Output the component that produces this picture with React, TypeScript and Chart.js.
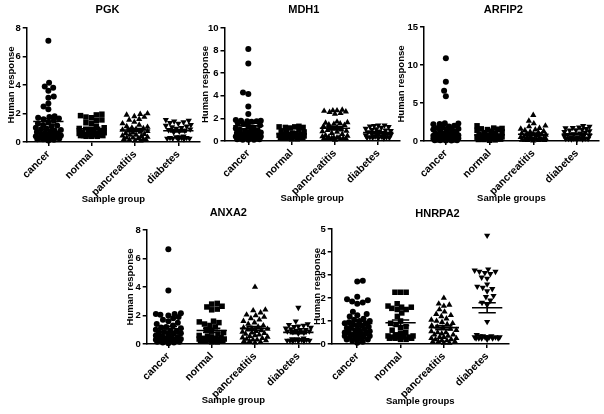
import React, { useEffect, useRef } from "react";
import { Chart, registerables } from "chart.js";

Chart.register(...registerables);

const FONT = "'Liberation Sans', Arial, Helvetica, sans-serif";
Chart.defaults.font.family = FONT;
Chart.defaults.color = "#000";

// ---------------- data ----------------
const groups = ["cancer", "normal", "pancreatitis", "diabetes"];

const pgkCancer = [7.1, 4.15, 3.9, 3.8, 3.6, 3.2, 3.1, 2.7, 2.5, 2.3, 1.8, 1.75, 1.7, 1.65, 1.6, 1.5, 1.4, 1.3, 1.2, 1.15, 1.1, 1.0, 0.95, 0.9, 0.85, 0.8, 0.75, 0.7, 0.65, 0.6, 0.55, 0.5, 0.5, 0.45, 0.4, 0.4, 0.35, 0.3, 0.3, 0.25, 0.25, 0.2, 0.2, 0.15, 0.1];
const pgkNormal = [1.95, 1.9, 1.85, 1.75, 1.7, 1.55, 1.5, 1.35, 1.3, 1.1, 1.0, 0.95, 0.85, 0.8, 0.75, 0.7, 0.65, 0.6, 0.6, 0.55, 0.55, 0.5, 0.5, 0.5, 0.45, 0.45, 0.45, 0.4, 0.4, 0.4];
const pgkPancreatitis = [2.0, 1.95, 1.9, 1.8, 1.75, 1.6, 1.55, 1.4, 1.3, 1.2, 1.1, 1.05, 1.0, 0.95, 0.9, 0.85, 0.8, 0.75, 0.7, 0.65, 0.6, 0.55, 0.5, 0.5, 0.45, 0.4, 0.35, 0.3, 0.3, 0.25, 0.2, 0.2, 0.15, 0.15, 0.1, 0.1];
const pgkDiabetes = [1.55, 1.5, 1.45, 1.4, 1.35, 1.3, 1.2, 1.15, 1.1, 1.05, 1.0, 0.95, 0.9, 0.85, 0.8, 0.75, 0.7, 0.4, 0.35, 0.35, 0.3, 0.3, 0.3, 0.25, 0.25, 0.25, 0.2, 0.2];

const mdh1Cancer = [8.15, 6.85, 4.3, 4.15, 3.05, 2.4, 1.85, 1.8, 1.8, 1.75, 1.75, 1.7, 1.6, 1.5, 1.4, 1.3, 1.2, 1.1, 1.0, 0.95, 0.9, 0.85, 0.8, 0.75, 0.7, 0.65, 0.6, 0.55, 0.5, 0.5, 0.45, 0.4, 0.4, 0.35, 0.3, 0.3, 0.25, 0.25, 0.2, 0.2, 0.15, 0.15, 0.1, 0.1, 0.1];
const mdh1Normal = [1.3, 1.25, 1.25, 1.2, 1.2, 1.15, 1.0, 0.9, 0.8, 0.75, 0.7, 0.65, 0.6, 0.55, 0.5, 0.5, 0.45, 0.45, 0.4, 0.4, 0.35, 0.35, 0.35, 0.3, 0.3, 0.3, 0.25, 0.25, 0.2, 0.2];
const mdh1Pancreatitis = [2.75, 2.7, 2.7, 2.65, 2.6, 2.55, 2.45, 2.4, 1.7, 1.65, 1.6, 1.55, 1.5, 1.45, 1.4, 1.3, 1.2, 1.1, 1.0, 0.95, 0.9, 0.85, 0.8, 0.7, 0.6, 0.5, 0.45, 0.4, 0.35, 0.3, 0.3, 0.3, 0.25, 0.25, 0.2, 0.2, 0.2, 0.15, 0.15, 0.1];
const mdh1Diabetes = [1.4, 1.4, 1.35, 1.3, 1.25, 1.2, 1.1, 1.05, 1.0, 0.95, 0.9, 0.85, 0.8, 0.75, 0.7, 0.65, 0.6, 0.55, 0.5, 0.5, 0.45, 0.4, 0.4, 0.35, 0.35, 0.3, 0.3, 0.3, 0.25, 0.25];

const arfip2Cancer = [10.9, 7.8, 6.6, 5.9, 2.35, 2.3, 2.25, 2.2, 2.0, 1.9, 1.8, 1.7, 1.6, 1.5, 1.4, 1.3, 1.2, 1.1, 1.0, 0.95, 0.9, 0.85, 0.8, 0.75, 0.7, 0.65, 0.6, 0.55, 0.5, 0.45, 0.4, 0.35, 0.3, 0.3, 0.25, 0.25, 0.2, 0.2, 0.15, 0.15, 0.1, 0.1, 0.1, 0.05, 0.05];
const arfip2Normal = [2.0, 1.7, 1.65, 1.6, 1.55, 1.5, 1.4, 1.3, 1.2, 1.1, 1.0, 0.9, 0.8, 0.7, 0.65, 0.6, 0.55, 0.5, 0.45, 0.4, 0.4, 0.35, 0.3, 0.3, 0.25, 0.25, 0.2, 0.2, 0.15, 0.1];
const arfip2Pancreatitis = [3.4, 2.65, 2.3, 2.0, 1.9, 1.7, 1.6, 1.5, 1.4, 1.3, 1.2, 1.1, 1.0, 0.95, 0.9, 0.85, 0.8, 0.7, 0.6, 0.55, 0.5, 0.45, 0.4, 0.35, 0.3, 0.3, 0.25, 0.25, 0.2, 0.2, 0.15, 0.15, 0.1, 0.1, 0.1, 0.05];
const arfip2Diabetes = [2.0, 1.9, 1.8, 1.75, 1.7, 1.6, 1.5, 1.45, 1.4, 1.3, 1.2, 1.1, 1.0, 0.9, 0.8, 0.7, 0.6, 0.55, 0.5, 0.45, 0.4, 0.4, 0.35, 0.35, 0.3, 0.3, 0.3, 0.25, 0.25, 0.2];

const anxa2Cancer = [6.65, 3.75, 2.15, 2.1, 2.1, 2.05, 2.0, 1.9, 1.8, 1.7, 1.6, 1.5, 1.4, 1.3, 1.2, 1.15, 1.1, 1.0, 0.95, 0.9, 0.85, 0.8, 0.75, 0.7, 0.65, 0.6, 0.55, 0.5, 0.45, 0.4, 0.4, 0.35, 0.35, 0.3, 0.3, 0.3, 0.25, 0.25, 0.2, 0.2, 0.15, 0.15, 0.1, 0.1, 0.05];
const anxa2Normal = [2.85, 2.8, 2.65, 2.6, 2.45, 2.4, 1.6, 1.55, 1.5, 1.4, 1.3, 1.2, 1.0, 0.9, 0.8, 0.7, 0.6, 0.55, 0.5, 0.45, 0.4, 0.4, 0.35, 0.35, 0.35, 0.3, 0.3, 0.3, 0.25, 0.25, 0.25, 0.2, 0.2, 0.2, 0.15, 0.15];
const anxa2Pancreatitis = [4.0, 2.4, 2.35, 2.2, 2.05, 2.0, 1.9, 1.8, 1.7, 1.6, 1.5, 1.4, 1.3, 1.2, 1.15, 1.1, 1.05, 1.0, 0.95, 0.9, 0.85, 0.8, 0.75, 0.7, 0.65, 0.6, 0.55, 0.5, 0.45, 0.4, 0.35, 0.3, 0.3, 0.25, 0.2, 0.2, 0.15, 0.1];
const anxa2Diabetes = [2.55, 1.6, 1.4, 1.35, 1.3, 1.25, 1.2, 1.15, 1.1, 1.05, 1.0, 1.0, 0.95, 0.9, 0.9, 0.85, 0.8, 0.75, 0.4, 0.35, 0.35, 0.3, 0.3, 0.3, 0.25, 0.25, 0.25, 0.2, 0.2, 0.2];

const hnrpa2Cancer = [2.75, 2.72, 2.05, 1.95, 1.9, 1.85, 1.8, 1.75, 1.4, 1.3, 1.25, 1.2, 1.1, 1.05, 1.0, 1.0, 0.95, 0.9, 0.9, 0.85, 0.8, 0.8, 0.75, 0.7, 0.7, 0.65, 0.6, 0.6, 0.55, 0.5, 0.5, 0.45, 0.45, 0.4, 0.4, 0.35, 0.35, 0.3, 0.3, 0.25, 0.25, 0.2, 0.2, 0.15, 0.1, 0.05];
const hnrpa2Normal = [2.25, 2.25, 2.25, 1.75, 1.65, 1.6, 1.6, 1.55, 1.5, 1.5, 1.35, 1.2, 1.0, 0.9, 0.85, 0.75, 0.7, 0.6, 0.5, 0.45, 0.4, 0.35, 0.35, 0.3, 0.3, 0.3, 0.3, 0.25, 0.25, 0.25, 0.2, 0.2];
const hnrpa2Pancreatitis = [2.0, 1.75, 1.7, 1.65, 1.5, 1.4, 1.3, 1.25, 1.2, 1.1, 1.05, 1.0, 0.95, 0.9, 0.85, 0.8, 0.75, 0.7, 0.65, 0.6, 0.55, 0.5, 0.5, 0.45, 0.4, 0.4, 0.35, 0.3, 0.3, 0.25, 0.25, 0.2, 0.2, 0.15, 0.15, 0.1, 0.1, 0.1, 0.05, 0.05];
const hnrpa2Diabetes = [4.72, 3.25, 3.2, 3.15, 3.15, 3.1, 3.05, 2.9, 2.85, 2.6, 2.5, 2.45, 2.4, 2.3, 2.1, 2.05, 1.9, 1.8, 1.7, 0.97, 0.4, 0.35, 0.35, 0.35, 0.3, 0.3, 0.3, 0.3, 0.3, 0.3, 0.25, 0.25, 0.25, 0.25, 0.25, 0.2];

// ---------------- layout / style ----------------
const TITLE_SIZE = 11;
const AXIS_TITLE_SIZE = 9.5;
const TICK_SIZE_X = 10.5;
const TICK_SIZE_Y = 9.5;
const AXIS_LW = 1.5;
const MEAN_HALF = 0.35;
const CAP_HALF = 0.2;
const SWARM_DIAM = 5.6;
const SWARM_HALF = 12.5;

const markerStyles = [
  { pointStyle: "circle", radius: 3, rotation: 0 },
  { pointStyle: "rect", radius: 3.9, rotation: 0 },
  { pointStyle: "triangle", radius: 3.6, rotation: 0 },
  { pointStyle: "triangle", radius: 3.6, rotation: 180 },
];

type Box = {
  left: number; right: number; top: number; bottom: number;
  xMin: number; xMax: number; yTitleX: number; xTitleY: number; titleX: number; titleY: number;
};
type Panel = { title: string; xTitle: string; yMax: number; yStep: number; series: number[][]; box: Box };

const panels: Panel[] = [
  {
    title: "PGK", xTitle: "Sample group", yMax: 8, yStep: 2,
    series: [pgkCancer, pgkNormal, pgkPancreatitis, pgkDiabetes],
    box: { left: 26.7, right: 200, top: 28, bottom: 142, xMin: -0.5, xMax: 3.5, yTitleX: 11, xTitleY: 199, titleX: 107.5, titleY: 10.3 },
  },
  {
    title: "MDH1", xTitle: "Sample group", yMax: 10, yStep: 2,
    series: [mdh1Cancer, mdh1Normal, mdh1Pancreatitis, mdh1Diabetes],
    box: { left: 224.5, right: 399.9, top: 28, bottom: 141, xMin: -0.55, xMax: 3.5, yTitleX: 205.5, xTitleY: 198, titleX: 303.8, titleY: 9.5 },
  },
  {
    title: "ARFIP2", xTitle: "Sample groups", yMax: 15, yStep: 5,
    series: [arfip2Cancer, arfip2Normal, arfip2Pancreatitis, arfip2Diabetes],
    box: { left: 424, right: 598.8, top: 27, bottom: 141, xMin: -0.5, xMax: 3.5, yTitleX: 401.7, xTitleY: 198, titleX: 503.3, titleY: 10 },
  },
  {
    title: "ANXA2", xTitle: "Sample group", yMax: 8, yStep: 2,
    series: [anxa2Cancer, anxa2Normal, anxa2Pancreatitis, anxa2Diabetes],
    box: { left: 146.7, right: 320, top: 230, bottom: 344, xMin: -0.5, xMax: 3.5, yTitleX: 130, xTitleY: 400.5, titleX: 228.3, titleY: 212.5 },
  },
  {
    title: "HNRPA2", xTitle: "Sample groups", yMax: 5, yStep: 1,
    series: [hnrpa2Cancer, hnrpa2Normal, hnrpa2Pancreatitis, hnrpa2Diabetes],
    box: { left: 331.7, right: 508.8, top: 229, bottom: 344, xMin: -0.59, xMax: 3.5, yTitleX: 317, xTitleY: 401.5, titleX: 437.5, titleY: 214 },
  },
];

// ---------------- helpers ----------------
function mean(v: number[]) {
  return v.reduce((a, b) => a + b, 0) / v.length;
}
function sem(v: number[]) {
  const m = mean(v);
  const sd = Math.sqrt(v.reduce((a, b) => a + (b - m) * (b - m), 0) / (v.length - 1));
  return sd / Math.sqrt(v.length);
}

// beeswarm arrangement of horizontal offsets (in category units)
function swarm(values: number[], pxY: number, pxX: number): number[] {
  const order = values.map((_, i) => i).sort((a, b) => values[a] - values[b] || a - b);
  const placed: { x: number; y: number }[] = [];
  const out: number[] = new Array(values.length).fill(0);
  const d2 = SWARM_DIAM * SWARM_DIAM;
  let side = 1;
  for (const i of order) {
    const y = values[i] * pxY;
    const near = placed.filter((p) => Math.abs(p.y - y) < SWARM_DIAM);
    const clear = (x: number) => near.every((p) => (p.x - x) ** 2 + (p.y - y) ** 2 >= d2 - 1e-6);
    const cands = [0];
    near.forEach((p) => {
      const dx = Math.sqrt(Math.max(d2 - (p.y - y) ** 2, 0));
      cands.push(p.x - dx, p.x + dx);
    });
    const valid = cands.filter((x) => Math.abs(x) <= SWARM_HALF && clear(x));
    let best = 0;
    if (valid.length) {
      valid.sort((a, b) => {
        const da = Math.round(Math.abs(a) * 50);
        const db = Math.round(Math.abs(b) * 50);
        return da - db || side * (a - b);
      });
      best = valid[0];
    } else {
      let bestScore = -1;
      for (let k = 0; k <= 24; k++) {
        const x = -SWARM_HALF + (2 * SWARM_HALF * k) / 24;
        const score = Math.min(...near.map((p) => (p.x - x) ** 2 + (p.y - y) ** 2)) - 0.01 * Math.abs(x);
        if (score > bestScore) {
          bestScore = score;
          best = x;
        }
      }
    }
    side = -side;
    placed.push({ x: best, y });
    out[i] = best / pxX;
  }
  return out;
}

const panelTitlePlugin = {
  id: "panelTitle",
  afterDraw(chart: any, _args: any, opts: any) {
    const { ctx } = chart;
    ctx.save();
    ctx.font = `bold ${TITLE_SIZE}px ${FONT}`;
    ctx.fillStyle = "#000";
    ctx.textAlign = "center";
    ctx.textBaseline = "middle";
    ctx.fillText(opts.text, opts.x, opts.y);
    ctx.restore();
  },
};

function buildConfig(p: Panel): any {
  const b = p.box;
  const pxX = (b.right - b.left) / (b.xMax - b.xMin);
  const pxY = (b.bottom - b.top) / p.yMax;
  const halfLH = (AXIS_TITLE_SIZE * 1.2) / 2;
  const yW = b.left - (b.yTitleX - halfLH);
  const xH = b.xTitleY + halfLH - b.bottom;

  const pointSets = p.series.map((vals, gi) => {
    const offs = swarm(vals, pxY, pxX);
    const m = markerStyles[gi];
    return {
      type: "scatter",
      label: groups[gi],
      data: vals.map((v, j) => ({ x: gi + offs[j], y: v })),
      pointStyle: m.pointStyle,
      pointRadius: m.radius,
      pointRotation: m.rotation,
      pointBackgroundColor: "#000",
      pointBorderColor: "#000",
      pointBorderWidth: 0,
      showLine: false,
      clip: false,
      order: 2,
    };
  });

  const summary: { x: number; y: number | null }[] = [];
  p.series.forEach((vals, gi) => {
    const m = mean(vals);
    const s = sem(vals);
    summary.push(
      { x: gi - MEAN_HALF, y: m }, { x: gi + MEAN_HALF, y: m }, { x: gi, y: null },
      { x: gi - CAP_HALF, y: m + s }, { x: gi + CAP_HALF, y: m + s }, { x: gi, y: null },
      { x: gi - CAP_HALF, y: m - s }, { x: gi + CAP_HALF, y: m - s }, { x: gi, y: null },
      { x: gi, y: m - s }, { x: gi, y: m + s }, { x: gi, y: null },
    );
  });

  const axisCommon = {
    grid: { display: true, drawOnChartArea: false, drawTicks: true, tickLength: 4, color: "#000", lineWidth: AXIS_LW },
    border: { display: true, color: "#000", width: AXIS_LW },
  };

  return {
    type: "scatter",
    data: {
      datasets: [
        {
          type: "line",
          label: "mean ± SEM",
          data: summary,
          borderColor: "#000",
          borderWidth: 1.6,
          pointRadius: 0,
          spanGaps: false,
          fill: false,
          order: 1,
        },
        ...pointSets,
      ],
    },
    options: {
      animation: false,
      responsive: false,
      events: [],
      layout: {
        padding: { left: b.left - yW, right: 604 - b.right, top: b.top, bottom: 414 - b.bottom - xH },
      },
      plugins: {
        legend: { display: false },
        tooltip: { enabled: false },
        panelTitle: { text: p.title, x: b.titleX, y: b.titleY },
      },
      scales: {
        x: {
          type: "linear",
          min: b.xMin,
          max: b.xMax,
          afterBuildTicks: (s: any) => {
            s.ticks = groups.map((_, i) => ({ value: i }));
          },
          afterFit: (s: any) => {
            s.height = xH;
          },
          ticks: {
            autoSkip: false,
            minRotation: 45,
            maxRotation: 45,
            padding: 2,
            color: "#000",
            font: { size: TICK_SIZE_X, weight: "bold", family: FONT },
            callback: (v: any) => groups[Math.round(Number(v))] ?? "",
          },
          title: {
            display: true,
            text: p.xTitle,
            color: "#000",
            font: { size: AXIS_TITLE_SIZE, weight: "bold", family: FONT },
            padding: 0,
          },
          ...axisCommon,
        },
        y: {
          type: "linear",
          min: 0,
          max: p.yMax,
          afterFit: (s: any) => {
            s.width = yW;
          },
          ticks: {
            stepSize: p.yStep,
            padding: 2,
            color: "#000",
            font: { size: TICK_SIZE_Y, weight: "bold", family: FONT },
          },
          title: {
            display: true,
            text: "Human response",
            color: "#000",
            font: { size: AXIS_TITLE_SIZE, weight: "bold", family: FONT },
            padding: 0,
          },
          ...axisCommon,
        },
      },
    },
    plugins: [panelTitlePlugin],
  };
}

function PanelChart({ panel }: { panel: Panel }) {
  const ref = useRef<HTMLCanvasElement>(null);
  useEffect(() => {
    if (!ref.current) return;
    const chart = new Chart(ref.current, buildConfig(panel));
    return () => chart.destroy();
  }, [panel]);
  return (
    <canvas
      ref={ref}
      width={604}
      height={414}
      style={{ position: "absolute", left: 0, top: 0, width: 604, height: 414, pointerEvents: "none" }}
    />
  );
}

export default function App() {
  return (
    <div style={{ position: "absolute", left: 0, top: 0, width: 604, height: 414, background: "#fff", overflow: "hidden" }}>
      {panels.map((p) => (
        <PanelChart key={p.title} panel={p} />
      ))}
    </div>
  );
}
